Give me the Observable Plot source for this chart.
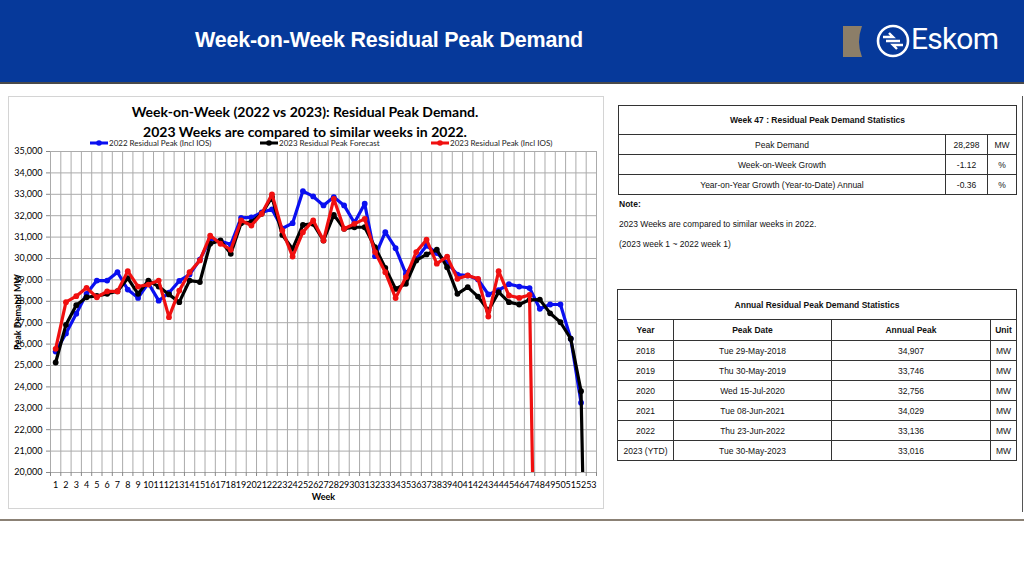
<!DOCTYPE html>
<html>
<head>
<meta charset="utf-8">
<script src="https://cdn.jsdelivr.net/npm/d3@7"></script>
<script src="https://cdn.jsdelivr.net/npm/@observablehq/plot@0.6"></script>
<style>
  html, body { margin: 0; padding: 0; background: #fff; }
  body { width: 1024px; height: 576px; position: relative; overflow: hidden; font-family: "Liberation Sans", Arial, sans-serif; }
  .abs { position: absolute; }
  #banner { left: 0; top: 0; width: 1024px; height: 82px; background: #06399a; border-bottom: 2px solid #4a4a4a; }
  #banner-title { left: 0; width: 778px; top: 28px; text-align: center; color: #fff; font-weight: bold; font-size: 21.5px; letter-spacing: -0.2px; }
  #chartbox { left: 8px; top: 96px; width: 594px; height: 411px; border: 1px solid #d4d4d4; }
  .ctitle { left: 8px; width: 594px; text-align: center; font-family: Lato, sans-serif; font-weight: bold; font-size: 14px; color: #000; }
  .legend { top: 137px; font-family: Lato, sans-serif; font-size: 8px; color: #222; white-space: nowrap; display: flex; align-items: center; }
  #plot { left: 0; top: 145px; }
  #plot svg text { fill: #000; }
  #plot g[aria-label="x-axis label"] text, #plot g[aria-label="y-axis label"] text { font-weight: bold; }
  table { border-collapse: collapse; font-family: "Liberation Sans", Arial, sans-serif; font-size: 8.5px; color: #111; }
  td { border: 1px solid #333; text-align: center; padding: 0; }
  #t1 { left: 618px; top: 105px; width: 399px; }
  #t2 { left: 617px; top: 289px; width: 400px; }
  .note { left: 619px; font-size: 8.5px; color: #111; }
  #rightline { left: 1022px; top: 96px; width: 1px; height: 416px; background: #555; }
  #bottomline { left: 0; top: 519px; width: 1024px; height: 2px; background: #8b8175; }
</style>
</head>
<body>
<div id="banner" class="abs"></div>
<div id="banner-title" class="abs">Week-on-Week Residual Peak Demand</div>
<svg class="abs" style="left:843px;top:26px" width="20" height="32">
  <path d="M0 0 L19 0 Q13 16 19 31 L0 31 Z" fill="#8c7e68"/>
</svg>
<svg class="abs" style="left:874px;top:22px" width="40" height="40">
  <circle cx="19" cy="19" r="15" fill="none" stroke="#fff" stroke-width="2.6"/>
  <path d="M9 15 L19 15 L15 11 M29 23 L19 23 L23 27 M12 19 L26 19" fill="none" stroke="#fff" stroke-width="2.4"/>
</svg>
<div class="abs" style="left:911px;top:21px;color:#fff;font-family:Roboto, sans-serif;font-size:30px;letter-spacing:-0.8px;">Eskom</div>

<div id="chartbox" class="abs"></div>
<div class="abs ctitle" style="top:103px">Week-on-Week (2022 vs 2023): Residual Peak Demand.</div>
<div class="abs ctitle" style="top:123px">2023 Weeks are compared to similar weeks in 2022.</div>
<div id="legend"></div>
<div id="plot" class="abs"></div>

<div id="rightline" class="abs"></div>
<div id="bottomline" class="abs"></div>

<table id="t1" class="abs"></table>
<div class="abs note" style="top:199px;font-weight:bold;">Note:</div>
<div class="abs note" style="top:219px;">2023 Weeks are compared to similar weeks in 2022.</div>
<div class="abs note" style="top:239px;">(2023 week 1 ~ 2022 week 1)</div>
<table id="t2" class="abs"></table>

<script>
// ---------------- data ----------------
const weeks = [1,2,3,4,5,6,7,8,9,10,11,12,13,14,15,16,17,18,19,20,21,22,23,24,25,26,27,28,29,30,31,32,33,34,35,36,37,38,39,40,41,42,43,44,45,46,47,48,49,50,51,52,53];
const residual2022 = [25650,26500,27420,28350,28970,28970,29360,28550,28160,28850,28030,28400,28950,29250,29950,30900,30820,30650,31900,31920,32150,32300,31400,31650,33150,32900,32480,32870,32480,31670,32560,30110,31230,30480,29280,29980,30600,30250,29800,29250,29200,29020,28320,28520,28800,28690,28620,27650,27850,27850,26250,23260,null];
const forecast2023 = [25140,26900,27820,28190,28250,28350,28470,29080,28350,28970,28690,28320,27960,28970,28900,30690,30840,30220,31650,31700,32090,32870,31100,30450,31570,31620,30840,32040,31390,31460,31460,30530,29560,28580,28820,29910,30190,30410,29590,28350,28660,28220,27570,28430,27960,27850,28070,28080,27440,27020,26250,23800,0];
const residual2023 = [25780,27960,28240,28630,28190,28460,28460,29410,28690,28780,28970,27260,28500,29360,29910,31070,30690,30410,31780,31540,32090,33000,31310,30090,31230,31780,30840,32790,31390,31620,31850,30300,29360,28150,29130,30300,30880,29760,30090,29050,29210,29050,27290,29410,28270,28160,28298,0,null,null,null,null,null];
const seriesNames = ["2022 Residual Peak (Incl IOS)", "2023 Residual Peak Forecast", "2023 Residual Peak (Incl IOS)"];
const seriesColors = ["#0a0ff0", "#000000", "#f01010"];
const yTicks = [20000,21000,22000,23000,24000,25000,26000,27000,28000,29000,30000,31000,32000,33000,34000,35000];

const weekStats = [
  ["Peak Demand", "28,298", "MW"],
  ["Week-on-Week Growth", "-1.12", "%"],
  ["Year-on-Year Growth (Year-to-Date) Annual", "-0.36", "%"]
];
const annualYears = ["2018","2019","2020","2021","2022","2023 (YTD)"];
const annualDates = ["Tue 29-May-2018","Thu 30-May-2019","Wed 15-Jul-2020","Tue 08-Jun-2021","Thu 23-Jun-2022","Tue 30-May-2023"];
const annualPeaks = ["34,907","33,746","32,756","34,029","33,136","33,016"];

// ---------------- chart ----------------
const allSeries = [residual2022, forecast2023, residual2023];
const boundaries = weeks.map(w => w - 0.5).concat([weeks[weeks.length - 1] + 0.5]);

const marks = [
  Plot.ruleY(yTicks, {stroke: "#ababab", strokeWidth: 1}),
  Plot.ruleX(boundaries, {stroke: "#ababab", strokeWidth: 1}),
  Plot.axisY({ticks: yTicks, tickFormat: d3.format(","), tickSize: 4, tickPadding: 4, stroke: "#888",
              label: "Peak Demand MW", labelAnchor: "center", labelOffset: 36, labelArrow: "none"}),
  Plot.axisX({ticks: weeks, tickFormat: d => String(d), tickSize: 0, tickPadding: 9,
              label: "Week", labelAnchor: "center", labelOffset: 27, labelArrow: "none"}),
  Plot.axisX({ticks: boundaries, tickFormat: () => "", tickSize: 4, stroke: "#888", label: null})
];
allSeries.forEach((vals, s) => {
  const rows = weeks.map((w, i) => ({week: w, value: vals[i]}));
  marks.push(Plot.line(rows, {x: "week", y: "value", stroke: seriesColors[s], strokeWidth: 3.2, clip: true, curve: "linear"}));
  marks.push(Plot.dot(rows.filter(d => d.value != null), {x: "week", y: "value", r: 2.9, fill: seriesColors[s], stroke: "none", clip: true}));
});

const chart = Plot.plot({
  width: 610, height: 365,
  marginLeft: 50, marginRight: 14, marginTop: 6, marginBottom: 38,
  style: {fontFamily: "Lato, sans-serif", fontSize: "9px", background: "transparent", overflow: "visible", color: "#000"},
  x: {domain: [0.5, 53.5]},
  y: {domain: [20000, 35000]},
  marks
});
document.getElementById("plot").appendChild(chart);

// ---------------- legend ----------------
const legendX = [90, 260, 431];
const legend = document.getElementById("legend");
seriesNames.forEach((name, s) => {
  const div = document.createElement("div");
  div.className = "abs legend";
  div.style.left = legendX[s] + "px";
  div.innerHTML = `<svg width="19" height="12"><line x1="0" y1="6" x2="18" y2="6" stroke="${seriesColors[s]}" stroke-width="3"/><circle cx="9" cy="6" r="2.8" fill="${seriesColors[s]}"/></svg><span>${name}</span>`;
  legend.appendChild(div);
});

// ---------------- tables ----------------
const t1 = document.getElementById("t1");
t1.innerHTML = `<tr style="height:29px"><td colspan="3" style="font-weight:bold;border-width:1.5px">Week 47 : Residual Peak Demand Statistics</td></tr>` +
  weekStats.map(r => `<tr style="height:20px"><td style="width:326px">${r[0]}</td><td style="width:41px">${r[1]}</td><td>${r[2]}</td></tr>`).join("");
const t2 = document.getElementById("t2");
t2.innerHTML = `<tr style="height:30px"><td colspan="4" style="font-weight:bold">Annual Residual Peak Demand Statistics</td></tr>` +
  `<tr style="height:21px;font-weight:bold"><td style="width:55px">Year</td><td style="width:157px">Peak Date</td><td style="width:158px">Annual Peak</td><td>Unit</td></tr>` +
  annualYears.map((y, i) => `<tr style="height:20px"><td>${y}</td><td>${annualDates[i]}</td><td>${annualPeaks[i]}</td><td>MW</td></tr>`).join("");
</script>
</body>
</html>
